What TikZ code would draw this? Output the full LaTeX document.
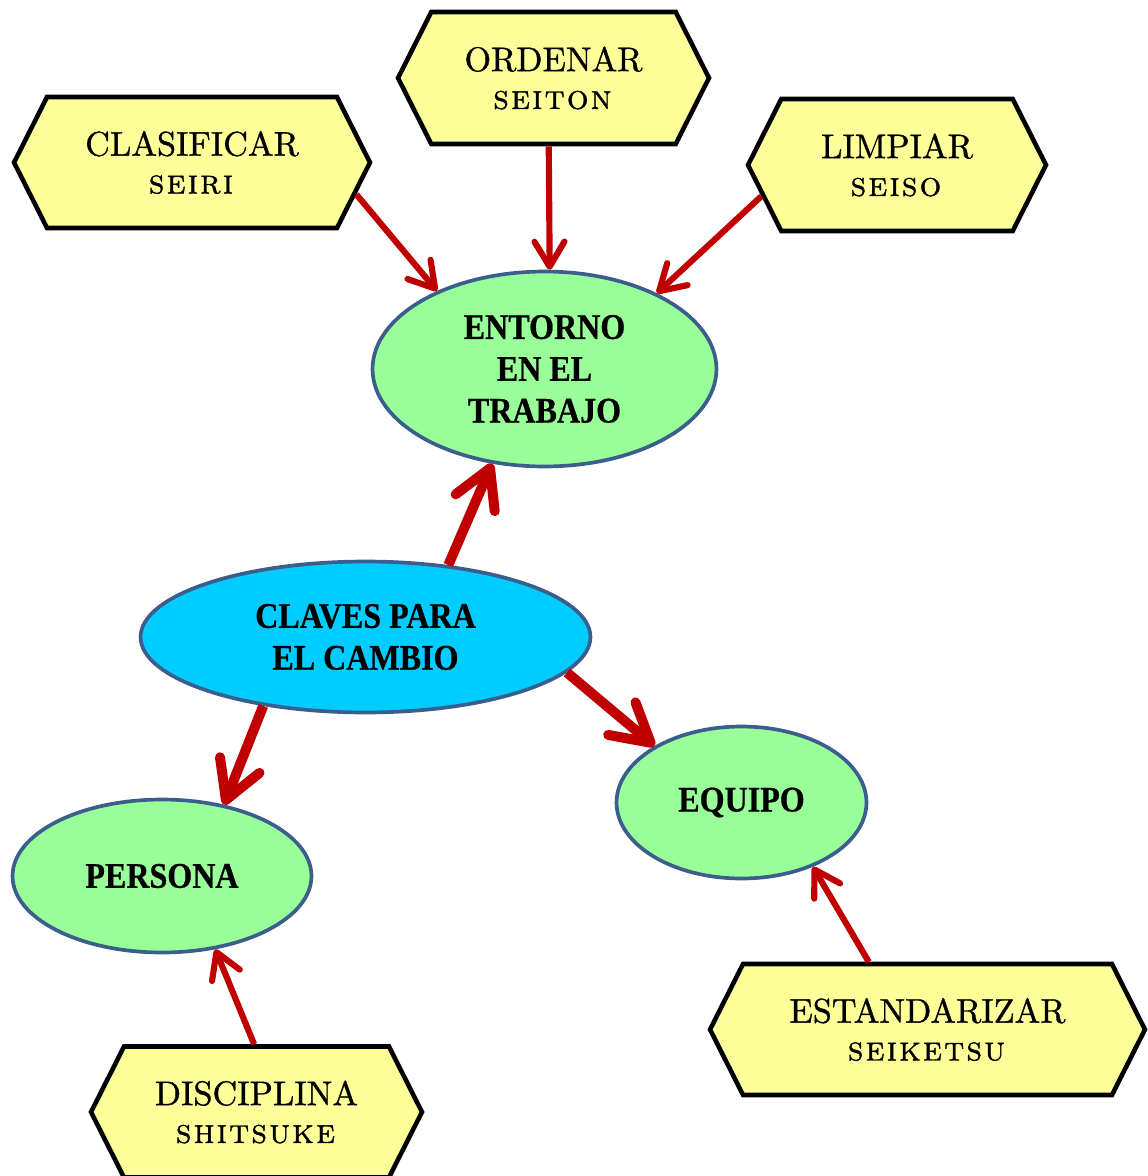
\documentclass[tikz,border=0pt]{standalone}
\usepackage{fontspec}
\newfontfamily\ellfont{Liberation Serif}[FakeStretch=0.89, FakeBold=0.6]
\newfontfamily\hexfont{lmroman10-regular.otf}[SmallCapsFont=lmromancaps10-regular.otf, SmallCapsFeatures={LetterSpace=6}, FakeBold=1]
\usetikzlibrary{shapes.geometric,shapes.symbols,arrows.meta}
\definecolor{hexfill}{HTML}{FFFF99}
\definecolor{greenfill}{HTML}{99FF99}
\definecolor{bluefill}{HTML}{00CCFF}
\definecolor{ellborder}{HTML}{3B5E8C}
\definecolor{arrred}{HTML}{C00000}
\tikzset{
 hexbox/.style={shape=signal, signal to=east and west, signal pointer angle=126.5,
   draw=black, line width=2.6pt, fill=hexfill, inner sep=0pt, align=center,
   font=\hexfont\fontsize{19.5}{21.5}\selectfont},
 ellbox/.style={ellipse, draw=ellborder, line width=2.1pt, inner sep=0pt, align=center,
   font=\ellfont\bfseries\fontsize{20.5}{23.8}\selectfont},
 thinarrow/.style={draw=arrred, line width=3.5pt, -{Straight Barb[length=0.5cm,width=0.6cm,round]}},
 thickarrow/.style={draw=arrred, line width=5.7pt, -{Straight Barb[length=0.75cm,width=0.85cm,round]}},
}
\begin{document}
\begin{tikzpicture}[x=0.02cm,y=-0.02cm]
\useasboundingbox (0,0) rectangle (1148,1176);
% hexagons
\node[hexbox, minimum width=7.12cm, minimum height=2.62cm] (clas) at (192,162.5) {CLASIFICAR\\\textsc{seiri}};
\node[hexbox, minimum width=6.22cm, minimum height=2.64cm] (ord) at (553.5,78) {ORDENAR\\\textsc{seiton}};
\node[hexbox, minimum width=5.96cm, minimum height=2.64cm] (lim) at (897,165) {LIMPIAR\\\textsc{seiso}};
\node[hexbox, minimum width=8.70cm, minimum height=2.62cm] (est) at (927.5,1029.5) {ESTANDARIZAR\\\textsc{seiketsu}};
\node[hexbox, minimum width=6.62cm, minimum height=2.62cm] (disc) at (256.5,1112) {DISCIPLINA\\\textsc{shitsuke}};
% ellipses
\node[ellbox, fill=greenfill, minimum width=6.88cm, minimum height=3.90cm] (ent) at (544.5,369) {ENTORNO\\EN EL\\TRABAJO};
\node[ellbox, fill=bluefill, minimum width=9.00cm, minimum height=3.02cm] (clav) at (365.5,637) {CLAVES PARA\\EL CAMBIO};
\node[ellbox, fill=greenfill, minimum width=5.98cm, minimum height=3.06cm] (pers) at (162,876) {PERSONA};
\node[ellbox, fill=greenfill, minimum width=5.00cm, minimum height=3.04cm] (equ) at (741.5,802.5) {EQUIPO};
% arrows
\draw[thinarrow] (clas.-11.8) -- (ent.144);
\draw[thinarrow] (ord.266.2) -- (ent.87.2);
\draw[thinarrow] (lim.193.1) -- (ent.34);
\draw[thickarrow] (clav.41.5) -- (ent.241);
\draw[thickarrow] (clav.-10) -- (equ.147);
\draw[thickarrow] (clav.214.4) -- (pers.49.4);
\draw[thinarrow] (est.131.2) -- (equ.-42.6);
\draw[thinarrow] (disc.92) -- (pers.-54.9);
\end{tikzpicture}
\end{document}
